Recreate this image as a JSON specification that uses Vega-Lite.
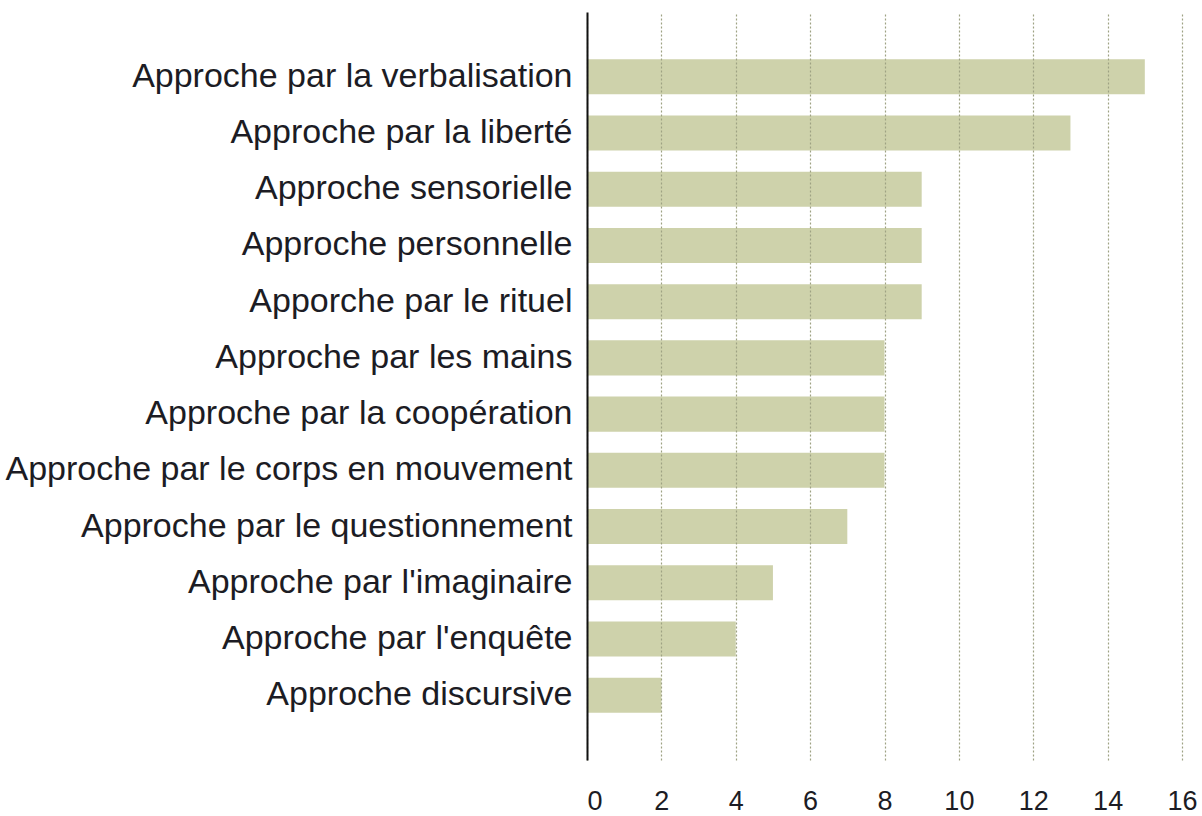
{
  "$schema": "https://vega.github.io/schema/vega-lite/v6.json",
  "autosize": "none",
  "padding": {"left": 587, "top": 12, "right": 20, "bottom": 56},
  "width": 595,
  "height": 748,
  "background": "white",
  "config": {"view": {"stroke": null}, "font": "Liberation Sans"},
  "data": {"values": [
    {"approche": "Approche par la verbalisation", "n": 15},
    {"approche": "Approche par la liberté", "n": 13},
    {"approche": "Approche sensorielle", "n": 9},
    {"approche": "Approche personnelle", "n": 9},
    {"approche": "Apporche par le rituel", "n": 9},
    {"approche": "Approche par les mains", "n": 8},
    {"approche": "Approche par la coopération", "n": 8},
    {"approche": "Approche par le corps en mouvement", "n": 8},
    {"approche": "Approche par le questionnement", "n": 7},
    {"approche": "Approche par l'imaginaire", "n": 5},
    {"approche": "Approche par l'enquête", "n": 4},
    {"approche": "Approche discursive", "n": 2}
  ]},
  "mark": {"type": "bar", "color": "#ced2ab"},
  "encoding": {
    "y": {
      "field": "approche", "type": "nominal", "sort": null,
      "scale": {"paddingInner": 0.377, "paddingOuter": 0.84},
      "axis": {
        "title": null, "ticks": false, "tickSize": 0, "labelPadding": 15,
        "labelFontSize": 34, "labelColor": "#1c1c24", "labelFont": "Liberation Sans",
        "domainColor": "#111111", "domainWidth": 2, "labelLimit": 0, "zindex": 2
      }
    },
    "x": {
      "field": "n", "type": "quantitative",
      "scale": {"domain": [0, 16], "nice": false},
      "axis": {
        "title": null, "values": [0, 2, 4, 6, 8, 10, 12, 14, 16],
        "domain": false, "ticks": false, "tickSize": 0,
        "grid": true, "gridColor": "#9ea283", "gridDash": [2, 2], "gridWidth": 1.2,
        "labelFontSize": 27, "labelColor": "#1c1c24", "labelPadding": 28,
        "labelAlign": {"condition": {"test": "datum.value == 0", "value": "left"}, "value": "center"},
        "labelFlush": false, "zindex": 1
      }
    }
  }
}
